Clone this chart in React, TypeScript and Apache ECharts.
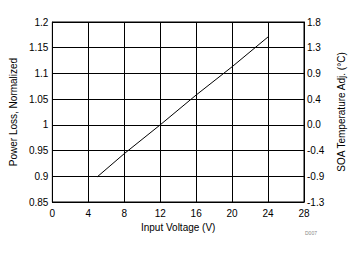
import React, { useEffect, useRef } from "react";
import * as echarts from "echarts";

const voltages = [5, 8, 12, 16, 20, 24];
const powerLoss = [0.899, 0.944, 1.0, 1.058, 1.113, 1.171];
const rightTickLabels = ["-1.3", "-0.9", "-0.4", "0.0", "0.4", "0.9", "1.3", "1.8"];
const xTitle = "Input Voltage (V)";
const leftTitle = "Power Loss, Normalized";
const rightTitle = "SOA Temperature Adj. (°C)";
const footnote = "D007";

export default function App() {
  const ref = useRef<HTMLDivElement>(null);
  useEffect(() => {
    if (!ref.current) return;
    const chart = echarts.init(ref.current, null, { renderer: "svg" });
    const font = "Liberation Sans, Arial, sans-serif";
    const labelStyle = { color: "#000", fontFamily: font, fontSize: 10 };
    chart.setOption({
      animation: false,
      backgroundColor: "#fff",
      grid: {
        left: 50,
        right: 52,
        top: 22,
        bottom: 52,
        show: true,
        borderColor: "#000",
        borderWidth: 1,
        containLabel: false,
      },
      xAxis: {
        type: "value",
        min: 0,
        max: 28,
        interval: 4,
        name: xTitle,
        nameLocation: "middle",
        nameGap: 19,
        nameTextStyle: labelStyle,
        axisLine: { show: true, lineStyle: { color: "#000", width: 1 } },
        axisTick: { show: false },
        axisLabel: { ...labelStyle, margin: 6 },
        splitLine: { show: true, lineStyle: { color: "#000", width: 1 } },
      },
      yAxis: [
        {
          type: "value",
          min: 0.85,
          max: 1.2,
          interval: 0.05,
          name: leftTitle,
          nameLocation: "middle",
          nameGap: 33,
          nameTextStyle: labelStyle,
          axisLine: { show: true, lineStyle: { color: "#000", width: 1 } },
          axisTick: { show: false },
          axisLabel: { ...labelStyle, margin: 4 },
          splitLine: { show: true, lineStyle: { color: "#000", width: 1 } },
        },
        {
          type: "value",
          position: "right",
          min: 0,
          max: 7,
          interval: 1,
          name: rightTitle,
          nameLocation: "middle",
          nameGap: 32,
          nameRotate: 90,
          nameTextStyle: labelStyle,
          axisLine: { show: true, lineStyle: { color: "#000", width: 1 } },
          axisTick: { show: false },
          axisLabel: {
            ...labelStyle,
            margin: 3,
            formatter: (v: number) => rightTickLabels[Math.round(v)] ?? "",
          },
          splitLine: { show: false },
        },
      ],
      series: [
        {
          type: "line",
          yAxisIndex: 0,
          data: voltages.map((v, i) => [v, powerLoss[i]]),
          showSymbol: false,
          lineStyle: { color: "#000", width: 1 },
        },
      ],
      graphic: [
        {
          type: "text",
          left: 305,
          top: 230,
          style: { text: footnote, fill: "#888", fontSize: 5, fontFamily: font },
        },
      ],
    });
    return () => chart.dispose();
  }, []);
  return <div ref={ref} style={{ width: 356, height: 254, margin: -8 }} />;
}
